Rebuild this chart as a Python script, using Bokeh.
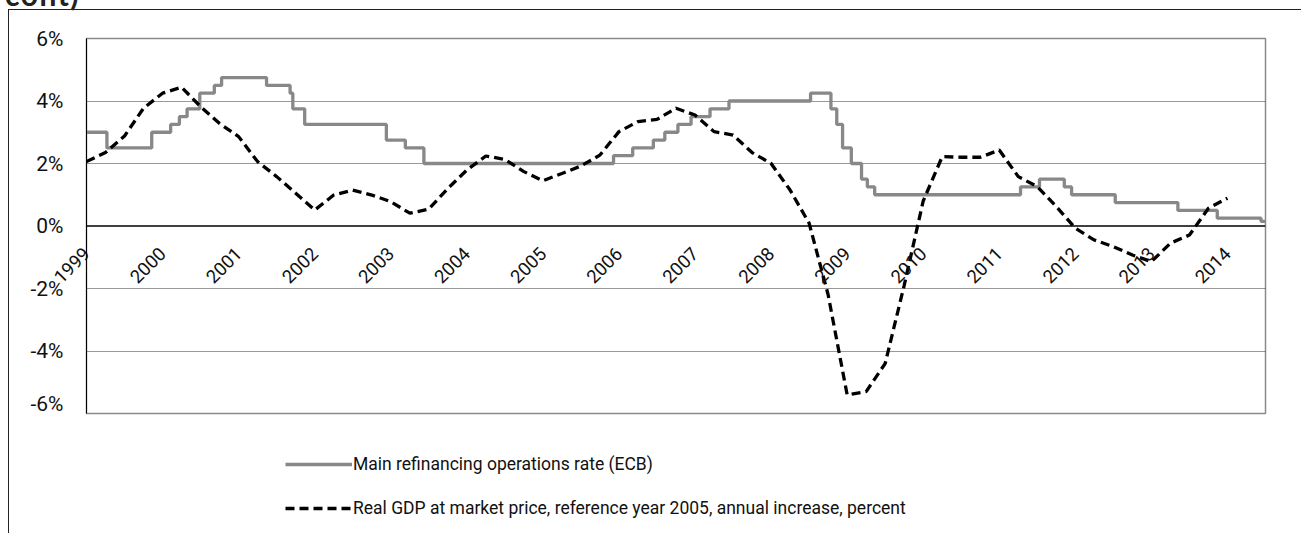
import math
import pandas as pd
from bokeh.plotting import figure
from bokeh.layouts import column
from bokeh.models import Legend, LegendItem, Span, FixedTicker, Range1d, Div
from bokeh.embed import file_html
from bokeh.resources import INLINE

# ECB main refinancing operations rate (percent), change dates
ecb_dates = ["1999-01-01", "1999-04-09", "1999-11-10", "2000-02-09", "2000-03-22",
             "2000-04-28", "2000-06-28", "2000-09-06", "2000-10-11", "2001-05-15",
             "2001-09-05", "2001-09-18", "2001-11-14", "2002-12-11", "2003-03-12",
             "2003-06-09", "2005-12-06", "2006-03-08", "2006-06-15", "2006-08-09",
             "2006-10-11", "2006-12-13", "2007-03-14", "2007-06-13", "2008-07-09",
             "2008-10-15", "2008-11-12", "2008-12-10", "2009-01-21", "2009-03-11",
             "2009-04-08", "2009-05-13", "2011-04-13", "2011-07-13", "2011-11-09",
             "2011-12-14", "2012-07-11", "2013-05-08", "2013-11-13", "2014-06-11",
             "2014-06-30"]
ecb_rates = [3.00, 2.50, 3.00, 3.25, 3.50,
             3.75, 4.25, 4.50, 4.75, 4.50,
             4.25, 3.75, 3.25, 2.75, 2.50,
             2.00, 2.25, 2.50, 2.75, 3.00,
             3.25, 3.50, 3.75, 4.00, 4.25,
             3.75, 3.25, 2.50, 2.00, 1.50,
             1.25, 1.00, 1.25, 1.50, 1.25,
             1.00, 0.75, 0.50, 0.25, 0.15,
             0.15]

# Real GDP growth (annual increase, percent), quarterly 1999Q1..2014Q1
gdp_quarters = [f"{y}Q{q}" for y in range(1999, 2014) for q in range(1, 5)] + ["2014Q1"]
gdp_values = [2.06, 2.35, 2.88, 3.77,
              4.25, 4.44, 3.82, 3.28,
              2.86, 2.06, 1.58, 1.05,
              0.51, 0.99, 1.15, 0.99,
              0.78, 0.41, 0.54, 1.20,
              1.79, 2.24, 2.13, 1.74,
              1.45, 1.68, 1.92, 2.27,
              3.02, 3.34, 3.41, 3.77,
              3.55, 3.02, 2.91, 2.35,
              2.00, 1.15, 0.09, -2.20,
              -5.40, -5.30, -4.40, -1.90,
              0.80, 2.22, 2.20, 2.20,
              2.43, 1.58, 1.26, 0.62,
              -0.07, -0.45, -0.66, -0.93,
              -1.14, -0.55, -0.29, 0.57,
              0.89]

year_ticks = list(range(1999, 2015))
year_labels = [str(y) for y in year_ticks]
y_ticks = [-6, -4, -2, 0, 2, 4, 6]
y_labels = ["-6%", "-4%", "-2%", "0%", "2%", "4%", "6%"]
grid_ticks = [-4, -2, 2, 4]

series_names = ["Main refinancing operations rate (ECB)",
                "Real GDP at market price, reference year 2005, annual increase, percent"]
heading_fragment = "cont)"


def dec_year(s):
    d = pd.Timestamp(s)
    start = pd.Timestamp(year=d.year, month=1, day=1)
    end = pd.Timestamp(year=d.year + 1, month=1, day=1)
    return d.year + (d - start) / (end - start)


ecb_x = [dec_year(s) for s in ecb_dates]
gdp_x = [int(q[:4]) + (int(q[-1]) - 1) * 0.25 for q in gdp_quarters]

FONT = "Roboto"
GREY = "#888888"
ECB_STYLE = dict(line_color=GREY, line_width=3.3)
GDP_STYLE = dict(line_color="black", line_width=3.3, line_dash="9 5")

FRAME_H = 375  # pixel height of the plotting area

# ---------------- main chart ----------------
p = figure(width=1292, height=405, output_backend="svg", toolbar_location=None,
           x_range=Range1d(1999.0, 2014.5), y_range=Range1d(-6, 6),
           min_border_left=77, min_border_right=36, min_border_top=28, min_border_bottom=2)
p.background_fill_color = "white"
p.border_fill_color = "white"
p.outline_line_color = "#8a8a8a"
p.outline_line_width = 1.5

# year labels: pulled up from the bottom axis so that they hang below the 0 line
p.xaxis.ticker = FixedTicker(ticks=year_ticks)
p.xaxis.major_label_overrides = dict(zip(year_ticks, year_labels))
p.xaxis.major_label_orientation = math.pi / 4
p.xaxis.major_tick_line_color = None
p.xaxis.minor_tick_line_color = None
p.xaxis.major_tick_out = 0
p.xaxis.major_tick_in = 0
p.xaxis.axis_line_color = None
p.xaxis.major_label_standoff = -int(FRAME_H / 2 - 24)
p.xaxis.major_label_text_font = FONT
p.xaxis.major_label_text_font_size = "18.5px"
p.xaxis.major_label_text_color = "#111111"
p.xgrid.visible = False

p.yaxis.ticker = FixedTicker(ticks=y_ticks)
p.yaxis.major_label_overrides = dict(zip(y_ticks, y_labels))
p.yaxis.major_tick_line_color = None
p.yaxis.minor_tick_line_color = None
p.yaxis.major_tick_out = 0
p.yaxis.major_label_standoff = 23
p.yaxis.axis_line_color = "black"
p.yaxis.axis_line_width = 1
p.yaxis.major_label_text_font = FONT
p.yaxis.major_label_text_font_size = "21px"
p.yaxis.major_label_text_color = "#111111"

p.ygrid.ticker = FixedTicker(ticks=grid_ticks)
p.ygrid.grid_line_color = "#333333"
p.ygrid.grid_line_dash = "1 1"
p.ygrid.grid_line_width = 1

p.add_layout(Span(location=0, dimension="width", line_color="black", line_width=1.3))

p.step(ecb_x, ecb_rates, mode="after", **ECB_STYLE)
p.line(gdp_x, gdp_values, **GDP_STYLE)

# ---------------- legend strip ----------------
q = figure(width=1292, height=118, output_backend="svg", toolbar_location=None,
           x_range=Range1d(0, 1), y_range=Range1d(0, 1),
           min_border=0)
q.axis.visible = False
q.grid.visible = False
q.outline_line_color = None
q.background_fill_color = "white"
q.border_fill_color = "white"
l_ecb = q.line(ecb_x, ecb_rates, visible=False, **ECB_STYLE)
l_gdp = q.line(gdp_x, gdp_values, visible=False, **GDP_STYLE)

legend = Legend(items=[LegendItem(label=series_names[0], renderers=[l_ecb]),
                       LegendItem(label=series_names[1], renderers=[l_gdp])],
                location=(199, 15), orientation="vertical",
                glyph_width=67, glyph_height=20, label_height=20, spacing=24,
                padding=0, margin=0, label_standoff=1,
                border_line_alpha=0, background_fill_alpha=0,
                inactive_fill_alpha=0,
                label_text_font=FONT, label_text_font_size="17.5px", label_text_color="#111111")
q.add_layout(legend)

# clipped heading fragment above the frame (only its lower edge is visible)
head = Div(text=heading_fragment, width=120, height=40,
           styles={"position": "absolute", "left": "-9px", "top": "-41px",
                   "font-family": "Lato", "font-weight": "bold", "font-size": "30px",
                   "line-height": "40px", "color": "#222222", "letter-spacing": "1.5px"})

layout = column(head, p, q, spacing=0,
                styles={"margin-left": "8px", "margin-top": "9px", "position": "relative",
                        "border-top": "1px solid #222", "border-left": "1px solid #222"})

open("out.html", "w").write(file_html(layout, INLINE))
